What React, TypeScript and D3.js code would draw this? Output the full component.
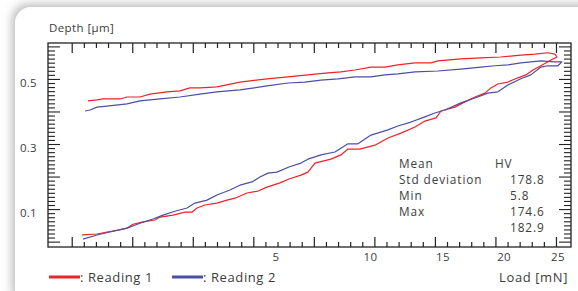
import * as d3 from 'd3'

// Load [mN], Depth [µm]
const reading1Loading: [number, number][] = [
  [0.111, 0.022], [0.231, 0.025], [0.335, 0.031], [0.471, 0.037], [0.6, 0.043],
  [0.694, 0.055], [0.867, 0.062], [1.1, 0.068], [1.206, 0.077], [1.502, 0.083],
  [1.804, 0.092], [1.993, 0.092], [2.134, 0.105], [2.369, 0.114], [2.745, 0.12],
  [3.08, 0.129], [3.361, 0.135], [3.806, 0.151], [4.239, 0.157], [4.61, 0.169],
  [5.173, 0.182], [5.583, 0.194], [6.153, 0.206], [6.497, 0.215], [6.852, 0.243],
  [7.698, 0.255], [8.251, 0.268], [8.651, 0.286], [9.356, 0.286], [10.28, 0.298],
  [11.11, 0.32], [11.98, 0.335], [12.95, 0.354], [13.66, 0.372], [14.47, 0.382],
  [14.85, 0.403], [15.92, 0.415], [16.71, 0.431], [17.53, 0.446], [18.36, 0.458],
  [18.86, 0.474], [19.46, 0.486], [20.34, 0.492], [21.23, 0.505], [21.96, 0.514],
  [22.61, 0.529], [23.36, 0.542], [24.32, 0.56], [24.91, 0.569],
]
const reading1Unloading: [number, number][] = [
  [24.71, 0.578], [24.03, 0.582], [22.8, 0.578], [21.5, 0.575], [19.72, 0.569],
  [18.02, 0.566], [16.39, 0.563], [14.62, 0.557], [14.1, 0.551], [12.95, 0.551],
  [11.77, 0.545], [10.92, 0.538], [10.03, 0.538], [9.06, 0.529], [8.25, 0.523],
  [7.54, 0.52], [6.5, 0.514], [5.54, 0.508], [4.61, 0.502], [3.54, 0.492],
  [2.745, 0.477], [2.221, 0.474], [1.938, 0.474], [1.675, 0.465], [1.361, 0.462],
  [1.0, 0.455], [0.814, 0.446], [0.6, 0.446], [0.498, 0.44], [0.291, 0.44],
  [0.231, 0.437], [0.154, 0.434],
]
const reading2Loading: [number, number][] = [
  [0.118, 0.009], [0.231, 0.022], [0.369, 0.031], [0.6, 0.043], [0.814, 0.058],
  [1.06, 0.071], [1.271, 0.083], [1.55, 0.095], [1.857, 0.105], [2.077, 0.12],
  [2.43, 0.129], [2.745, 0.145], [3.184, 0.16], [3.543, 0.175], [4.0, 0.185],
  [4.32, 0.2], [4.652, 0.212], [5.04, 0.215], [5.583, 0.231], [6.153, 0.243],
  [6.497, 0.255], [7.163, 0.268], [7.917, 0.277], [8.651, 0.302], [9.237, 0.302],
  [10.03, 0.329], [11.11, 0.345], [11.77, 0.357], [12.67, 0.369], [13.66, 0.385],
  [14.39, 0.397], [15.15, 0.406], [16.39, 0.428], [17.53, 0.443], [18.61, 0.458],
  [19.46, 0.462], [20.34, 0.483], [21.5, 0.502], [22.42, 0.514], [23.36, 0.538],
  [24.03, 0.542], [25.0, 0.542], [25.39, 0.554],
]
const reading2Unloading: [number, number][] = [
  [24.71, 0.554], [23.36, 0.557], [22.42, 0.554], [21.5, 0.551], [20.34, 0.545],
  [19.2, 0.542], [18.02, 0.538], [16.39, 0.532], [14.62, 0.526], [12.95, 0.523],
  [11.77, 0.517], [10.92, 0.514], [10.03, 0.508], [9.06, 0.508], [8.08, 0.502],
  [7.16, 0.498], [6.35, 0.492], [5.54, 0.489], [4.61, 0.48], [3.54, 0.468],
  [2.745, 0.462], [2.221, 0.455], [1.675, 0.446], [1.206, 0.44], [0.814, 0.434],
  [0.6, 0.425], [0.335, 0.418], [0.231, 0.415], [0.17, 0.406], [0.132, 0.403],
]

const xLabels = [5, 10, 15, 20, 25]
const yLabels = [0.1, 0.3, 0.5]
const statNames = ['Mean', 'Std deviation', 'Min', 'Max']
const statUnit = 'HV'
const statValues = ['178.8', '5.8', '174.6', '182.9']
const series = [
  { name: ': Reading 1', color: '#ee2229', data: [...reading1Loading, ...reading1Unloading] },
  { name: ': Reading 2', color: '#4d4ea3', data: [...reading2Loading, ...reading2Unloading] },
]

const W = 578
const H = 291
const FONT = '"Open Sans", sans-serif'
const INK = '#3c3c3c'

const App = () => {
  const left = 48
  const right = 571
  const top = 43
  const bottom = 247

  const x = d3.scaleSqrt().domain([0, 26.3]).range([left, right])
  const y = d3.scaleLinear().domain([-0.015, 0.612]).range([bottom, top])
  // evenly spaced tick marks on the top / bottom frame
  const tickGrid = d3.scaleLinear().domain([0, 43.2]).range([left, right])
  const xTicks = d3.range(2, 43)
  const yTicks = d3.range(0, 49).map(i => i * 0.0125)

  const line = d3
    .line<[number, number]>()
    .x(d => x(d[0]))
    .y(d => y(d[1]))

  const txt = { fontFamily: FONT, fill: INK }
  const big = { ...txt, fontSize: 13, letterSpacing: 0.6 }
  const stat = { ...txt, fontSize: 11.8, letterSpacing: 0.9 }

  return (
    <svg width={W} height={H} style={{ position: 'absolute', left: 0, top: 0, background: '#fff' }}>
      <defs>
        <filter id='shadow' x='-10%' y='-10%' width='120%' height='120%'>
          <feDropShadow dx={-3} dy={-3} stdDeviation={5} floodColor='#777' floodOpacity={0.5} />
        </filter>
      </defs>
      <rect x={15} y={7} width={600} height={300} rx={16} fill='#fff' filter='url(#shadow)' />

      <text x={49} y={32} {...txt} fontSize={11.5} letterSpacing={0.4}>
        Depth [µm]
      </text>

      {/* frame */}
      <rect x={left} y={top} width={right - left} height={bottom - top} fill='none' stroke='#222' strokeWidth={1.3} />

      {/* top & bottom ticks */}
      {xTicks.map(i => {
        const major = (i - 2) % 5 === 0
        const px = tickGrid(i)
        return (
          <g key={'xt' + i} stroke='#222' strokeWidth={1.2}>
            <line x1={px} x2={px} y1={top} y2={top + (major ? 10 : 5)} />
            <line x1={px} x2={px} y1={bottom} y2={bottom - (major ? 10 : 5)} />
          </g>
        )
      })}

      {/* left & right ticks */}
      {yTicks.map((v, i) => {
        const major = i % 8 === 0
        const py = y(v)
        return (
          <g key={'yt' + i} stroke='#222' strokeWidth={1.1}>
            <line x1={left} x2={left + (major ? 12 : 7)} y1={py} y2={py} />
            <line x1={right} x2={right - (major ? 12 : 7)} y1={py} y2={py} />
          </g>
        )
      })}

      {yLabels.map(v => (
        <text key={'yl' + v} x={37} y={y(v) + 7.5} textAnchor='end' {...txt} fontSize={11.5} letterSpacing={0.3}>
          {d3.format('.1f')(v)}
        </text>
      ))}

      {xLabels.map(v => (
        <text key={'xl' + v} x={x(v)} y={261} textAnchor='middle' {...txt} fontSize={11.5} letterSpacing={0.3}>
          {v}
        </text>
      ))}

      <text x={568} y={281.5} textAnchor='end' {...big}>
        Load [mN]
      </text>

      {series.map(s => (
        <path key={s.name} d={line(s.data) ?? ''} fill='none' stroke={s.color} strokeWidth={1.2} strokeLinejoin='round' />
      ))}

      {/* stats */}
      {statNames.map((n, i) => (
        <text key={n} x={399} y={167.5 + i * 16} {...stat}>
          {n}
        </text>
      ))}
      <text x={495} y={167.5} {...stat}>
        {statUnit}
      </text>
      {statValues.map((v, i) => (
        <text key={'sv' + i} x={510} y={183.5 + i * 16} {...stat}>
          {v}
        </text>
      ))}

      {/* legend */}
      {series.map((s, i) => {
        const lx = 49 + i * 123
        return (
          <g key={'lg' + i}>
            <line x1={lx} x2={lx + 31} y1={277} y2={277} stroke={s.color} strokeWidth={3} />
            <text x={lx + 31} y={281.5} {...big}>
              {s.name}
            </text>
          </g>
        )
      })}
    </svg>
  )
}

export default App
